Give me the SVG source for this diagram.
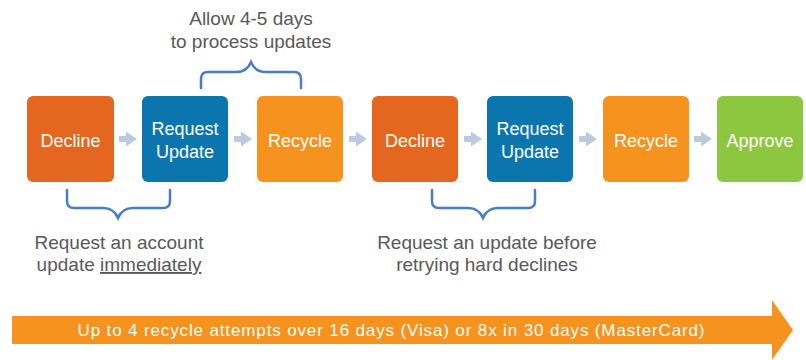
<svg xmlns="http://www.w3.org/2000/svg" width="806" height="360" viewBox="0 0 806 360">
<defs>
<style>
.box{stroke:none}
.dec{fill:#E5671F}
.req{fill:#0B76AD}
.rec{fill:#F6921E}
.app{fill:#8DC63F}
.bt{font-family:"Liberation Sans",Arial,sans-serif;font-size:18px;fill:#fff;text-anchor:middle}
.lbl{font-family:"Liberation Sans",Arial,sans-serif;font-size:19px;fill:#595959;text-anchor:middle}
.brace{fill:none;stroke:#4A7DC0;stroke-width:2.5;stroke-linecap:round}
.sa{fill:#BCCADF}
</style>
<path id="sarrow" class="sa" d="M0,-3 H7 V-7.5 L18,0 L7,7.5 V3 H0 Z"/>
</defs>
<rect width="806" height="360" fill="#fff"/>
<g id="node-decline1"><rect class="box dec" x="27" y="96" width="87" height="86" rx="6"/><text class="bt" x="70.5" y="147">Decline</text></g>
<g id="node-request1"><rect class="box req" x="142" y="96" width="86" height="86" rx="6"/><text class="bt" x="185" y="135">Request</text><text class="bt" x="185" y="158">Update</text></g>
<g id="node-recycle1"><rect class="box rec" x="257" y="96" width="86" height="86" rx="6"/><text class="bt" x="300" y="147">Recycle</text></g>
<g id="node-decline2"><rect class="box dec" x="372" y="96" width="86" height="86" rx="6"/><text class="bt" x="415" y="147">Decline</text></g>
<g id="node-request2"><rect class="box req" x="487" y="96" width="86" height="86" rx="6"/><text class="bt" x="530" y="135">Request</text><text class="bt" x="530" y="158">Update</text></g>
<g id="node-recycle2"><rect class="box rec" x="603" y="96" width="86" height="86" rx="6"/><text class="bt" x="646" y="147">Recycle</text></g>
<g id="node-approve"><rect class="box app" x="717" y="96" width="86" height="86" rx="6"/><text class="bt" x="760" y="147">Approve</text></g>
<g id="connectors">
<use href="#sarrow" x="119" y="139"/>
<use href="#sarrow" x="234" y="139"/>
<use href="#sarrow" x="349" y="139"/>
<use href="#sarrow" x="464" y="139"/>
<use href="#sarrow" x="579" y="139"/>
<use href="#sarrow" x="694" y="139"/>
</g>
<g id="brace-top">
<path class="brace" d="M201,88 V79 Q201,72 208,72 H236 Q247,72 251,62 Q255,72 266,72 H294 Q301,72 301,79 V88"/>
<text class="lbl" x="251" y="25">Allow 4-5 days</text>
<text class="lbl" x="251" y="48">to process updates</text>
</g>
<g id="brace-left">
<path class="brace" d="M67,190 V201 Q67,208 74,208 H103 Q114,208 118,218 Q122,208 133,208 H163 Q170,208 170,201 V190"/>
<text class="lbl" x="119" y="249">Request an account</text>
<text class="lbl" x="119" y="271">update <tspan text-decoration="underline">immediately</tspan></text>
</g>
<g id="brace-right">
<path class="brace" d="M432,190 V201 Q432,208 439,208 H468 Q479,208 483,218 Q487,208 498,208 H528 Q535,208 535,201 V190"/>
<text class="lbl" x="487" y="249">Request an update before</text>
<text class="lbl" x="487" y="271">retrying hard declines</text>
</g>
<g id="timeline">
<path fill="#F6921E" d="M12,316 H772 V300 L793,330 L772,360 V344 H12 Z"/>
<text x="391" y="336" font-family="'Liberation Sans',Arial,sans-serif" font-size="17" fill="#fff" text-anchor="middle" textLength="627" lengthAdjust="spacing">Up to 4 recycle attempts over 16 days (Visa) or 8x in 30 days (MasterCard)</text>
</g>
</svg>
